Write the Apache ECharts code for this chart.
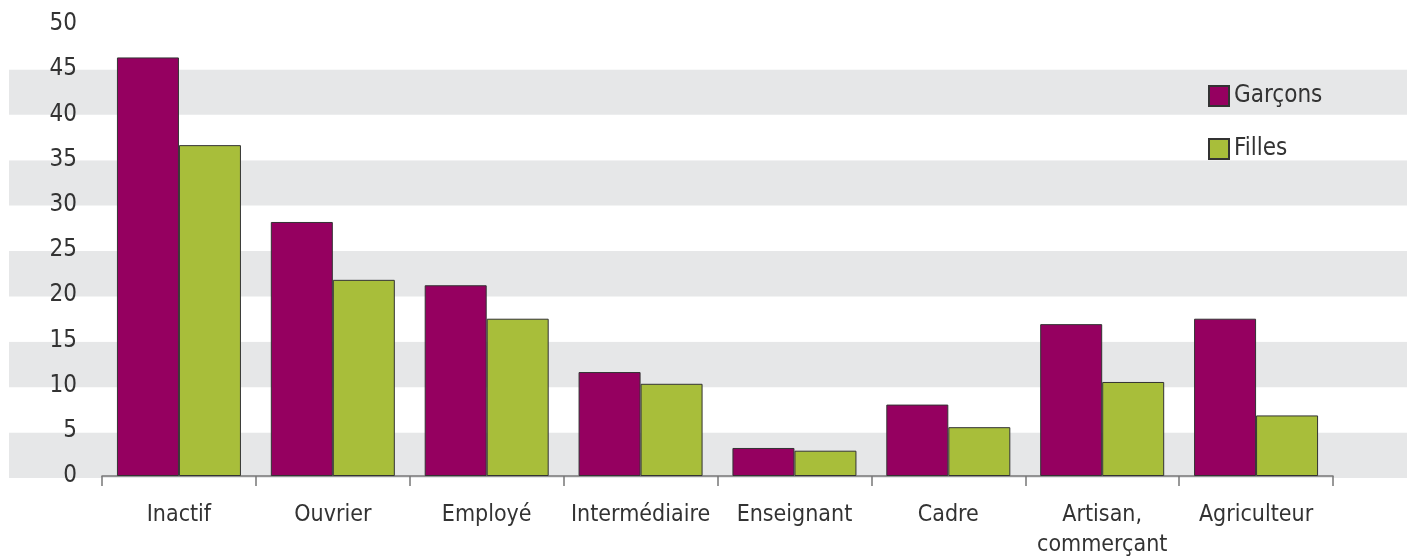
<!DOCTYPE html>
<html>
<head>
<meta charset="utf-8">
<script src="https://cdn.jsdelivr.net/npm/echarts@6/dist/echarts.min.js"></script>
<style>
  html, body { margin: 0; padding: 0; background: #fff; }
  #chart { width: 1407px; height: 560px; }
</style>
</head>
<body>
<div id="chart"></div>
<script>
const categories = ['Inactif', 'Ouvrier', 'Employé', 'Intermédiaire', 'Enseignant', 'Cadre', 'Artisan,\ncommerçant', 'Agriculteur'];
const garcons = [46.3, 28.1, 21.1, 11.5, 3.1, 7.9, 16.8, 17.4];
const filles = [36.6, 21.7, 17.4, 10.2, 2.8, 5.4, 10.4, 6.7];
const yTicks = [0, 5, 10, 15, 20, 25, 30, 35, 40, 45, 50];

const font = "'Liberation Sans Narrow', 'DejaVu Sans Condensed', sans-serif";

const chart = echarts.init(document.getElementById('chart'));

chart.setOption({
  animation: false,
  textStyle: { fontFamily: font },
  legend: {
    orient: 'vertical',
    left: 1203,
    top: 79,
    itemWidth: 20,
    itemHeight: 20,
    itemGap: 29,
    icon: 'rect',
    textStyle: { fontSize: 24, color: '#333', fontFamily: font },
    data: ['Garçons', 'Filles'],
  },
  grid: [{
    left: 102,
    right: 74,
    top: 24,
    bottom: 82,
  }, {
    // background bands across the whole width
    left: 9,
    right: 0,
    top: 24,
    bottom: 82,
  }],
  xAxis: [{
    type: 'category',
    gridIndex: 0,
    data: categories,
    axisLine: { show: true, lineStyle: { color: '#777', width: 1.5 } },
    axisTick: { show: true, length: 10, lineStyle: { color: '#777', width: 1.5 } },
    axisLabel: {
      color: '#333',
      fontSize: 23,
      margin: 24,
      lineHeight: 30,
      fontFamily: font,
      interval: 0,
    },
    splitLine: { show: false },
  }, {
    type: 'value',
    gridIndex: 1,
    show: false,
  }],
  yAxis: [{
    type: 'value',
    gridIndex: 0,
    min: yTicks[0],
    max: yTicks[yTicks.length - 1],
    interval: 5,
    axisLine: { show: false },
    axisTick: { show: false },
    splitLine: { show: false },
    axisLabel: {
      color: '#333',
      fontSize: 24,
      margin: 25,
      fontFamily: font,
    },
  }, {
    type: 'value',
    gridIndex: 1,
    min: yTicks[0],
    max: yTicks[yTicks.length - 1],
    interval: 5,
    axisLine: { show: false },
    axisTick: { show: false },
    axisLabel: { show: false },
    splitLine: { show: false },
    splitArea: {
      show: true,
      areaStyle: { color: ['#e6e7e8', '#ffffff'] },
    },
  }],
  series: [{
    name: 'Garçons',
    type: 'bar',
    xAxisIndex: 0,
    yAxisIndex: 0,
    barWidth: 62,
    barGap: '0%',
    itemStyle: { color: '#950060', borderColor: '#333', borderWidth: 1 },
    data: garcons,
  }, {
    name: 'Filles',
    type: 'bar',
    xAxisIndex: 0,
    yAxisIndex: 0,
    barWidth: 62,
    barGap: '0%',
    itemStyle: { color: '#a8be3a', borderColor: '#333', borderWidth: 1 },
    data: filles,
  }],
});
</script>
</body>
</html>
